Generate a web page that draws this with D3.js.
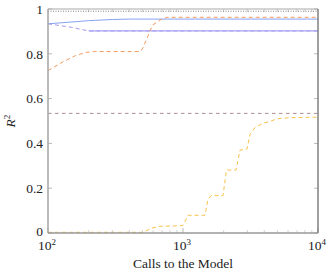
<!DOCTYPE html>
<html><head><meta charset="utf-8">
<script src="https://cdn.jsdelivr.net/npm/d3@7"></script>
<style>body{margin:0;background:#fff}svg{display:block}</style>
</head><body><svg id="c" width="333" height="273"></svg>
<script>
// ---- data ----
const xMajorTicks = [100, 1000, 10000];
const xMajorExp = ["2", "3", "4"];
const yTicks = [0, 0.2, 0.4, 0.6, 0.8, 1];
const yTickLabels = ["0", "0.2", "0.4", "0.6", "0.8", "1"];

const dottedRef = [[100, 0.99], [10000, 0.99]];
const dashedRef = [[100, 0.534], [10000, 0.534]];
const blueSolid = [[100, 0.934], [150, 0.942], [200, 0.948], [300, 0.953], [400, 0.955], [10000, 0.955]];
const lavDashed = [[100, 0.934], [150, 0.918], [200, 0.902], [10000, 0.902]];
const lavSolid = [[200, 0.902], [10000, 0.902]];
const orange = [[100, 0.725], [130, 0.765], [160, 0.792], [190, 0.806], [220, 0.81], [481, 0.81], [505, 0.826], [569, 0.902], [598, 0.929], [675, 0.951], [760, 0.963], [10000, 0.963]];
const yellow = [[100, 0.003], [505, 0.003], [589, 0.022], [675, 0.03], [950, 0.032], [1000, 0.034], [1090, 0.079], [1455, 0.079], [1531, 0.15], [1612, 0.167], [1980, 0.167], [2012, 0.2], [2100, 0.281], [2470, 0.281], [2645, 0.37], [2980, 0.375], [3135, 0.44], [3400, 0.47], [3915, 0.49], [4500, 0.5], [4970, 0.51], [6210, 0.515], [10000, 0.517]];

// ---- chart ----
const svg = d3.select("#c");
const FONT = "Times New Roman, Tinos, Liberation Serif, DejaVu Serif, Noto Serif, serif";
const L = 48, R = 318, T = 9, B = 233;
const x = d3.scaleLog().domain([100, 10000]).range([L, R]);
const y = d3.scaleLinear().domain([0, 1]).range([B, T]);
const line = d3.line().x(d => x(d[0])).y(d => y(d[1]));

// minor ticks
const minors = [];
[100, 1000].forEach(b => { for (let k = 2; k <= 9; k++) minors.push(b * k); });
svg.append("g").selectAll("line").data(minors).join("line")
  .attr("x1", d => x(d)).attr("x2", d => x(d)).attr("y1", B).attr("y2", B - 3)
  .attr("stroke", "#c8c8c8").attr("stroke-width", 0.8);
svg.append("g").selectAll("line").data(minors).join("line")
  .attr("x1", d => x(d)).attr("x2", d => x(d)).attr("y1", T).attr("y2", T + 3)
  .attr("stroke", "#c8c8c8").attr("stroke-width", 0.8);
svg.append("g").selectAll("line").data(xMajorTicks).join("line")
  .attr("x1", d => x(d)).attr("x2", d => x(d)).attr("y1", B).attr("y2", B - 5)
  .attr("stroke", "#aaa").attr("stroke-width", 0.8);
svg.append("g").selectAll("line").data(yTicks).join("line")
  .attr("x1", L).attr("x2", L + 4).attr("y1", d => y(d)).attr("y2", d => y(d))
  .attr("stroke", "#aaa").attr("stroke-width", 0.8);
svg.append("g").selectAll("line").data(yTicks).join("line")
  .attr("x1", R).attr("x2", R - 4).attr("y1", d => y(d)).attr("y2", d => y(d))
  .attr("stroke", "#aaa").attr("stroke-width", 0.8);

// series
const series = [
  {d: dashedRef, c: "#a08088", w: 0.9, da: "3.5,3.5"},
  {d: yellow, c: "#f8c24a", w: 1, da: "4,3"},
  {d: lavDashed, c: "#9e98ee", w: 1, da: "4,3"},
  {d: lavSolid, c: "#aaa2f2", w: 1.3, da: null},
  {d: blueSolid, c: "#86a2f2", w: 1, da: null},
  {d: orange, c: "#f39a60", w: 1, da: "4,3"},
  {d: dottedRef, c: "#777", w: 0.9, da: "1,1.5"}
];
svg.append("g").selectAll("path").data(series).join("path")
  .attr("d", s => line(s.d)).attr("fill", "none")
  .attr("stroke", s => s.c).attr("stroke-width", s => s.w)
  .attr("stroke-dasharray", s => s.da);

// frame
svg.append("line").attr("x1", L).attr("x2", R).attr("y1", T).attr("y2", T).attr("stroke", "#aaa").attr("stroke-width", 1.2);
svg.append("line").attr("x1", R).attr("x2", R).attr("y1", T).attr("y2", B).attr("stroke", "#777").attr("stroke-width", 1.4);
svg.append("line").attr("x1", L).attr("x2", L).attr("y1", T).attr("y2", B).attr("stroke", "#aaa").attr("stroke-width", 1.6);
svg.append("line").attr("x1", L).attr("x2", R).attr("y1", B).attr("y2", B).attr("stroke", "#999").attr("stroke-width", 1.6);

// y labels
svg.append("g").selectAll("text").data(yTicks).join("text")
  .style("font-family", FONT).attr("fill", "#222")
  .attr("x", 43).attr("y", d => y(d)).attr("dy", d => d === 0 ? "0.25em" : "0.35em")
  .attr("text-anchor", "end").attr("font-size", 13.5)
  .text((d, i) => yTickLabels[i]);

// x labels
const xl = svg.append("g").selectAll("text").data(xMajorTicks).join("text")
  .style("font-family", FONT).attr("fill", "#222")
  .attr("x", d => x(d) - 1).attr("y", 250).attr("text-anchor", "middle").attr("font-size", 13.5);
xl.append("tspan").text("10");
xl.append("tspan").attr("font-size", 9).attr("dy", -5).text((d, i) => xMajorExp[i]);

svg.append("text").style("font-family", FONT).attr("fill", "#222")
  .attr("x", 183).attr("y", 268).attr("text-anchor", "middle").attr("font-size", 13.5).text("Calls to the Model");
const yl = svg.append("text").style("font-family", FONT).attr("fill", "#222")
  .attr("transform", "translate(15,121) rotate(-90)").attr("text-anchor", "middle").attr("font-size", 13.5);
yl.append("tspan").attr("font-style", "italic").text("R");
yl.append("tspan").attr("font-size", 9).attr("dy", -5).text("2");
</script></body></html>
